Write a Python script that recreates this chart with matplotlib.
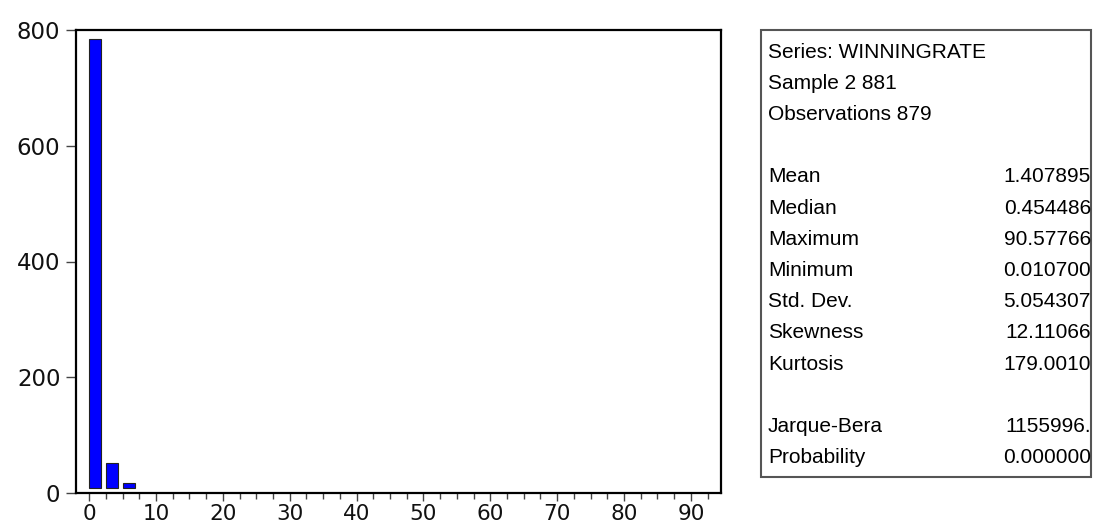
import matplotlib
matplotlib.use("Agg")
import matplotlib.pyplot as plt
from matplotlib.patches import Rectangle
from matplotlib.ticker import MultipleLocator

plt.rcParams['font.family'] = ['Liberation Sans', 'DejaVu Sans']

# histogram bins (left edges) and counts
bin_left = [0.0, 2.5, 5.0]
counts = [784, 51, 18]

# descriptive statistics panel
stat_header = ["Series: WINNINGRATE", "Sample 2 881", "Observations 879"]
stat_names = ["Mean", "Median", "Maximum", "Minimum", "Std. Dev.",
              "Skewness", "Kurtosis", "", "Jarque-Bera", "Probability"]
stat_values = ["1.407895", "0.454486", "90.57766", "0.010700", "5.054307",
               "12.11066", "179.0010", "", "1155996.", "0.000000"]

W, H = 1093, 530
fig = plt.figure(figsize=(W / 100, H / 100), dpi=100)
ax = fig.add_axes([75.7 / W, 1 - 493 / H, (721 - 75.7) / W, (493 - 30) / H])

base = 8  # EViews lifts the bars a little off the axis
ax.bar(bin_left, [c - base for c in counts], bottom=base, width=1.8,
       align='edge', color='#0000FF', edgecolor='#222222', linewidth=0.8)

ax.set_xlim(-2.0, 94.5)
ax.set_ylim(0, 800)
ax.xaxis.set_major_locator(MultipleLocator(10))
ax.xaxis.set_minor_locator(MultipleLocator(2.5))
ax.yaxis.set_major_locator(MultipleLocator(200))

for s in ax.spines.values():
    s.set_linewidth(1.6)
    s.set_color('black')

ax.tick_params(axis='x', which='major', direction='out', length=6, width=1,
               color='#444444', labelsize=15.5, pad=2)
ax.tick_params(axis='x', which='minor', direction='out', length=4, width=1,
               color='#444444')
ax.tick_params(axis='y', which='major', direction='out', length=7, width=1,
               color='#444444', labelsize=16.5, pad=4)
for lab in ax.get_xticklabels() + ax.get_yticklabels():
    lab.set_family('DejaVu Sans')
    lab.set_color('#111111')

# statistics box
box_left, box_top, box_right, box_bottom = 761, 30, 1091, 477
fig.patches.append(Rectangle((box_left / W, 1 - box_bottom / H),
                             (box_right - box_left) / W,
                             (box_bottom - box_top) / H,
                             transform=fig.transFigure, fill=False,
                             edgecolor='#555555', linewidth=1.5))

line_h = 31.2
y0 = 52
lines = [(h, "") for h in stat_header] + [("", "")] + list(zip(stat_names, stat_values))
for i, (name, val) in enumerate(lines):
    y = 1 - (y0 + i * line_h) / H
    if name:
        fig.text(768 / W, y, name, fontsize=15, va='center', ha='left')
    if val:
        fig.text(1091 / W, y, val, fontsize=15, va='center', ha='right')

fig.savefig("out.png", dpi=100)
